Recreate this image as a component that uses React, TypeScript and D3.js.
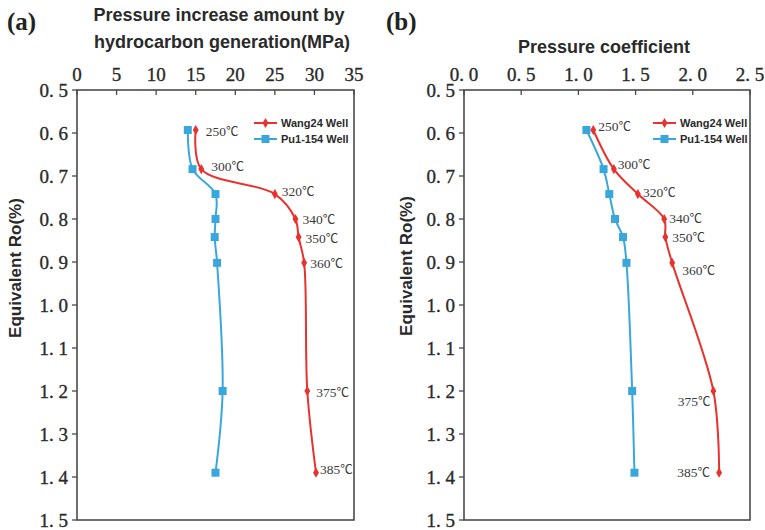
import React from "react";
import * as d3 from "d3";

const ro = [0.593, 0.684, 0.742, 0.8, 0.842, 0.902, 1.2, 1.39];
const temps = ["250", "300", "320", "340", "350", "360", "375", "385"];
const tempUnit = "℃";
const wangPressure = [15.0, 15.7, 25.0, 27.6, 28.0, 28.7, 29.1, 30.2];
const puPressure = [14.0, 14.6, 17.5, 17.5, 17.4, 17.7, 18.4, 17.5];
const wangCoef = [1.13, 1.31, 1.52, 1.75, 1.76, 1.82, 2.18, 2.23];
const puCoef = [1.07, 1.22, 1.27, 1.32, 1.39, 1.42, 1.47, 1.49];
const yTicks = [0.5, 0.6, 0.7, 0.8, 0.9, 1.0, 1.1, 1.2, 1.3, 1.4, 1.5];
const xTicksA = [0, 5, 10, 15, 20, 25, 30, 35];
const xTicksB = [0, 0.5, 1.0, 1.5, 2.0, 2.5];
const seriesNames = ["Wang24 Well", "Pu1-154 Well"];

// label placement (style only): [dx, dy, anchor]
const labelPosA: [number, number, string][] = [
  [10, 1, "start"], [10, -3, "start"], [7, -3, "start"], [7, 0, "start"],
  [7, 1, "start"], [6, 0, "start"], [9, 1, "start"], [4, -3, "start"],
];
const labelPosB: [number, number, string][] = [
  [5, -4, "start"], [4, -5, "start"], [5, -2, "start"], [5, -1, "start"],
  [7, 0, "start"], [10, 7, "start"], [-3, 10, "end"], [-9, 0, "end"],
];

const RED = "#e8322d";
const BLUE = "#3aa7dc";
const FRAME = "#4a4a4a";
const TXT = "#2a2a2a";

const fmtY = (v: number) => d3.format(".1f")(v).replace(".", ". ");

type PanelProps = {
  x0: number; x1: number; y0: number; y1: number;
  xDomain: [number, number]; xTicks: number[]; fmtX: (v: number) => string;
  wang: number[]; pu: number[]; labelPos: [number, number, string][];
  legendX: number;
};

function Panel(p: PanelProps) {
  const x = d3.scaleLinear().domain(p.xDomain).range([p.x0, p.x1]);
  const y = d3.scaleLinear().domain([0.5, 1.5]).range([p.y0, p.y1]);
  const line = d3
    .line<[number, number]>()
    .x((d) => x(d[0]))
    .y((d) => y(d[1]))
    .curve(d3.curveCatmullRom.alpha(0.5));
  const wangPts: [number, number][] = p.wang.map((v, i) => [v, ro[i]]);
  const puPts: [number, number][] = p.pu.map((v, i) => [v, ro[i]]);
  const diamond = d3.symbol(d3.symbolDiamond, 30)() as string;
  const lx = p.legendX;
  const ly = [123, 139];
  const tickFont = { fontFamily: "Liberation Serif", fontSize: 19, fill: TXT, stroke: TXT, strokeWidth: 0.35 };
  return (
    <g>
      <rect x={p.x0} y={p.y0} width={p.x1 - p.x0} height={p.y1 - p.y0} fill="none" stroke={FRAME} strokeWidth={1.6} />
      {p.xTicks.map((t) => (
        <g key={"x" + t}>
          <line x1={x(t)} x2={x(t)} y1={p.y0} y2={p.y0 + 5} stroke={FRAME} strokeWidth={1.3} />
          <text x={x(t)} y={p.y0 - 9} textAnchor="middle" {...tickFont}>
            {p.fmtX(t)}
          </text>
        </g>
      ))}
      {yTicks.map((t) => (
        <g key={"y" + t}>
          <line x1={p.x0 - 5} x2={p.x0} y1={y(t)} y2={y(t)} stroke={FRAME} strokeWidth={1.3} />
          <text x={p.x0 - 9} y={y(t)} dy="0.35em" textAnchor="end" {...tickFont}>
            {fmtY(t)}
          </text>
        </g>
      ))}
      <path d={line(puPts) as string} fill="none" stroke={BLUE} strokeWidth={2} />
      <path d={line(wangPts) as string} fill="none" stroke={RED} strokeWidth={2} />
      {puPts.map((d, i) => (
        <rect key={"p" + i} x={x(d[0]) - 4} y={y(d[1]) - 4} width={8} height={8} fill={BLUE} />
      ))}
      {wangPts.map((d, i) => (
        <path key={"w" + i} d={diamond} transform={`translate(${x(d[0])},${y(d[1])})`} fill={RED} />
      ))}
      {wangPts.map((d, i) => (
        <text
          key={"t" + i}
          x={x(d[0]) + p.labelPos[i][0]}
          y={y(d[1]) + p.labelPos[i][1]}
          dy="0.35em"
          textAnchor={p.labelPos[i][2] as any}
          fontFamily="Liberation Serif"
          fontSize={13.5}
          fill="#3a3a3a"
        >
          {temps[i]}
          <tspan fontFamily="'Noto Sans CJK SC'" fontSize={12.5}>{tempUnit}</tspan>
        </text>
      ))}
      {/* legend */}
      <line x1={lx} x2={lx + 23} y1={ly[0]} y2={ly[0]} stroke={RED} strokeWidth={2} />
      <path d={diamond} transform={`translate(${lx + 11.5},${ly[0]})`} fill={RED} />
      <text x={lx + 27} y={ly[0]} dy="0.35em" fontFamily="Liberation Sans" fontWeight="bold" fontSize={11} fill={TXT}>
        {seriesNames[0]}
      </text>
      <line x1={lx} x2={lx + 23} y1={ly[1]} y2={ly[1]} stroke={BLUE} strokeWidth={2} />
      <rect x={lx + 7.5} y={ly[1] - 4} width={8} height={8} fill={BLUE} />
      <text x={lx + 27} y={ly[1]} dy="0.35em" fontFamily="Liberation Sans" fontWeight="bold" fontSize={11} fill={TXT}>
        {seriesNames[1]}
      </text>
    </g>
  );
}

export default function App() {
  const titleFont = { fontFamily: "Liberation Sans", fontWeight: "bold" as const, fontSize: 18, fill: TXT };
  return (
    <svg width={765} height={530} style={{ position: "absolute", left: 0, top: 0, background: "#fff" }}>
      <text x={7} y={30} fontFamily="Liberation Serif" fontWeight="bold" fontSize={25} fill="#222">(a)</text>
      <text x={386} y={30} fontFamily="Liberation Serif" fontWeight="bold" fontSize={25} fill="#222">(b)</text>
      <text x={219} y={21} textAnchor="middle" {...titleFont}>
        Pressure increase amount by
      </text>
      <text x={222} y={48} textAnchor="middle" {...titleFont}>
        hydrocarbon generation(MPa)
      </text>
      <text x={604} y={53} textAnchor="middle" {...titleFont}>
        Pressure coefficient
      </text>
      <text transform="translate(21,268) rotate(-90)" textAnchor="middle" fontFamily="Liberation Sans" fontWeight="bold" fontSize={17} fill={TXT}>
        Equivalent Ro(%)
      </text>
      <text transform="translate(412,266) rotate(-90)" textAnchor="middle" fontFamily="Liberation Sans" fontWeight="bold" fontSize={17} fill={TXT}>
        Equivalent Ro(%)
      </text>
      <Panel
        x0={77} x1={354} y0={90} y1={520}
        xDomain={[0, 35]} xTicks={xTicksA} fmtX={(v) => String(v)}
        wang={wangPressure} pu={puPressure} labelPos={labelPosA} legendX={254}
      />
      <Panel
        x0={464} x1={750} y0={90} y1={520}
        xDomain={[0, 2.5]} xTicks={xTicksB} fmtX={(v) => d3.format(".1f")(v).replace(".", ". ")}
        wang={wangCoef} pu={puCoef} labelPos={labelPosB} legendX={653}
      />
    </svg>
  );
}
